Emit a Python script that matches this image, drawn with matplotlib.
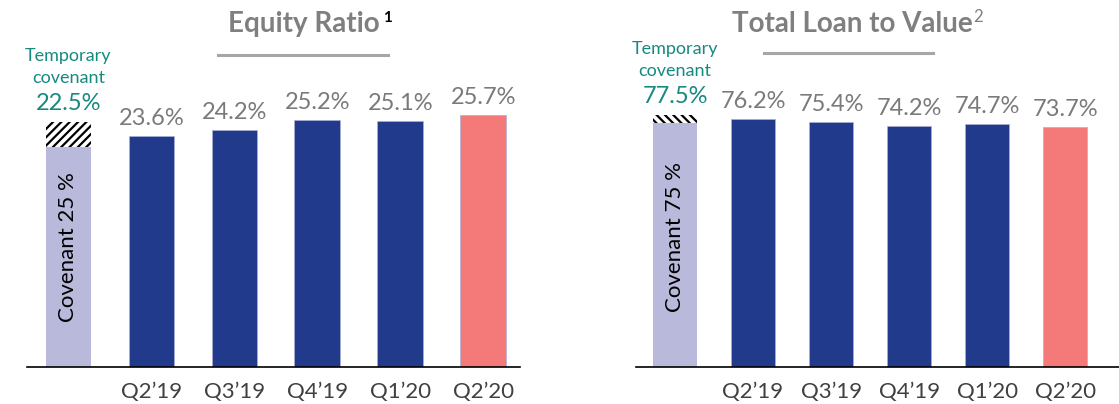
import matplotlib
matplotlib.use('Agg')
import matplotlib.pyplot as plt

plt.rcParams['font.family'] = ['Lato', 'DejaVu Sans']
plt.rcParams['hatch.linewidth'] = 1.6

# data
quarters = ['Q2’19', 'Q3’19', 'Q4’19', 'Q1’20', 'Q2’20']
equity_ratio = [23.6, 24.2, 25.2, 25.1, 25.7]
loan_to_value = [76.2, 75.4, 74.2, 74.7, 73.7]
equity_covenant = 25.0
equity_temp_covenant = 22.5
ltv_covenant = 75.0
ltv_temp_covenant = 77.5

BLUE = '#213a8c'
SALMON = '#f47a7a'
LAVENDER = '#b9badb'
TEAL = '#178a80'
GRAY = '#7a7a7a'
TICK = '#404040'

W, H = 1119, 404
fig = plt.figure(figsize=(W / 100, H / 100), dpi=100)


def px(v):
    # pixels -> points at dpi 100
    return v * 0.72


def panel(x0, x1, values, covenant, temp, ylim, width, hatch, xmax):
    ax = fig.add_axes([x0 / W, 37 / H, (x1 - x0) / W, 367 / H])
    n = len(values)
    xs = list(range(1, n + 1))
    colors = [BLUE] * (n - 1) + [SALMON]
    ax.bar(xs, values, width=width, color=colors, edgecolor='#aab0d6', linewidth=0.5)
    low, high = min(covenant, temp), max(covenant, temp)
    ax.bar([0], [low], width=width, color=LAVENDER, linewidth=0)
    ax.bar([0], [high - low], bottom=[low], width=width, color='white',
           edgecolor='black', hatch=hatch, linewidth=0)
    for x, v in zip(xs, values):
        ax.annotate(f'{v:.1f}%', (x, v), xytext=(0, px(11)), textcoords='offset points',
                    ha='center', va='baseline', fontsize=17, color=GRAY)
    ax.annotate(f'{temp:.1f}%', (0, high), xytext=(0, px(12)), textcoords='offset points',
                ha='center', va='baseline', fontsize=17, color=TEAL)
    ax.annotate('covenant', (0, high), xytext=(0, px(39)), textcoords='offset points',
                ha='center', va='baseline', fontsize=13, color=TEAL)
    ax.annotate('Temporary', (0, high), xytext=(0, px(61)), textcoords='offset points',
                ha='center', va='baseline', fontsize=13, color=TEAL)
    ax.text(0, low / 2 + (high - low) * 0.1 + 0.02 * ylim, f'Covenant {covenant:.0f} %', rotation=90,
            ha='center', va='center', fontsize=16, color='black')
    ax.set_xlim(-0.5, xmax)
    ax.set_ylim(0, ylim)
    ax.set_xticks(xs)
    ax.set_xticklabels(quarters, fontsize=16, color=TICK)
    ax.tick_params(axis='x', length=0, pad=11)
    ax.set_yticks([])
    for s in ['top', 'right', 'left']:
        ax.spines[s].set_visible(False)
    ax.spines['bottom'].set_linewidth(1.2)
    ax.spines['bottom'].set_color('black')
    return ax


panel(27, 520, equity_ratio, equity_covenant, equity_temp_covenant,
      367 / 9.79, 0.554, '////', 5.44)
panel(636, 1119, loan_to_value, ltv_covenant, ltv_temp_covenant,
      367 / 3.25, 0.564, '\\\\\\\\', 5.69)

# titles with underline
fig.text(304 / W, 1 - 32 / H, 'Equity Ratio', ha='center', va='baseline',
         fontsize=20, fontweight='bold', color='#7f7f7f')
fig.text(383 / W, 1 - 22 / H, '1', ha='left', va='baseline',
         fontsize=11, fontweight='bold', color='black')
fig.add_artist(plt.Line2D([218 / W, 388 / W], [1 - 55 / H, 1 - 55 / H],
                          color='#a6a6a6', linewidth=2.2))

fig.text(852 / W, 1 - 32 / H, 'Total Loan to Value', ha='center', va='baseline',
         fontsize=20, fontweight='bold', color='#7f7f7f')
fig.text(973 / W, 1 - 22 / H, '2', ha='left', va='baseline',
         fontsize=12, color='#7f7f7f')
fig.add_artist(plt.Line2D([764 / W, 933 / W], [1 - 53 / H, 1 - 53 / H],
                          color='#a6a6a6', linewidth=2.2))

fig.savefig('out.png', dpi=100)
